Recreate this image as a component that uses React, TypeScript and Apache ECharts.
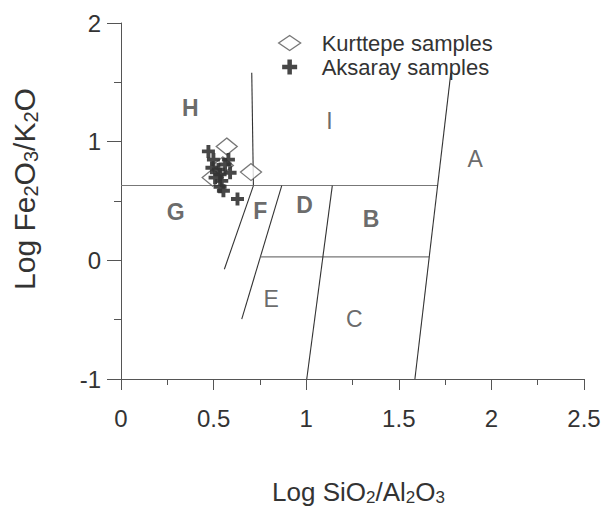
import React, { useEffect, useRef } from 'react';
import * as echarts from 'echarts';

const FONT = '"Liberation Sans", Arial, Helvetica, sans-serif';

// Sample data (x = Log SiO2/Al2O3, y = Log Fe2O3/K2O)
const kurttepeSamples: number[][] = [
  [0.571, 0.959],
  [0.702, 0.744],
  [0.495, 0.697],
  [0.55, 0.8],
];
const aksaraySamples: number[][] = [
  [0.472, 0.918],
  [0.499, 0.849],
  [0.58, 0.849],
  [0.589, 0.738],
  [0.526, 0.766],
  [0.508, 0.697],
  [0.544, 0.67],
  [0.553, 0.587],
  [0.629, 0.517],
  [0.535, 0.724],
  [0.491, 0.78],
  [0.562, 0.807],
  [0.535, 0.62],
];

// Classification field boundaries
const boundaryHI: number[][] = [[0.706, 1.58], [0.715, 0.63]];
const boundaryTop: number[][] = [[0, 0.63], [1.71, 0.63]];
const boundaryGF: number[][] = [[0.715, 0.63], [0.558, -0.075]];
const boundaryDF: number[][] = [[0.868, 0.63], [0.652, -0.495]];
const boundaryMid: number[][] = [[0.753, 0.029], [1.664, 0.029]];
const boundaryDB: number[][] = [[1.141, 0.63], [1.003, -1]];
const boundaryA: number[][] = [[1.781, 1.58], [1.587, -1]];

// Field labels
const regionNames = ['H', 'I', 'A', 'G', 'F', 'D', 'B', 'E', 'C'];
const regionX = [0.377, 1.128, 1.915, 0.298, 0.755, 0.994, 1.353, 0.814, 1.263];
const regionY = [1.276, 1.166, 0.849, 0.407, 0.413, 0.463, 0.344, -0.329, -0.495];
const regionBold = [true, false, false, true, true, true, true, false, false];

const PLUS = 'path://M7,0h6v7h7v6h-7v7h-6v-7h-7v-6h7z';
const LABEL_COLOR = '#444';

export default function App() {
  const ref = useRef<HTMLDivElement>(null);
  useEffect(() => {
    if (!ref.current) return;
    const chart = echarts.init(ref.current, null, { renderer: 'svg' });
    const lineSeries = (data: number[][], color: string) => ({
      type: 'line',
      data,
      symbol: 'none',
      silent: true,
      lineStyle: { color, width: 1.1 },
      z: 1,
    });
    chart.setOption({
      animation: false,
      backgroundColor: '#fff',
      grid: { left: 121, right: 28, top: 23, bottom: 125.5 },
      legend: {
        orient: 'vertical',
        left: 278,
        top: 32,
        padding: 0,
        itemWidth: 22,
        itemHeight: 15,
        itemGap: 2,
        textStyle: {
          fontFamily: FONT,
          fontSize: 22,
          lineHeight: 18,
          color: '#333',
          padding: [0, 0, 0, 16],
        },
        data: [
          {
            name: 'Kurttepe samples',
            icon: 'diamond',
            itemStyle: { color: '#fff', borderColor: '#555', borderWidth: 1.3 },
          },
          { name: 'Aksaray samples', icon: PLUS, itemStyle: { color: '#333' } },
        ],
      },
      xAxis: {
        type: 'value',
        min: 0,
        max: 2.5,
        interval: 0.5,
        splitLine: { show: false },
        axisLine: { onZero: false, lineStyle: { color: '#555', width: 1 } },
        axisTick: { length: 11, lineStyle: { color: '#555' } },
        minorTick: { show: true, splitNumber: 2, length: 6, lineStyle: { color: '#555' } },
        axisLabel: { fontFamily: FONT, fontSize: 24, color: '#333', margin: 27 },
        name: '{m|Log SiO}{s|2}{m|/Al}{s|2}{m|O}{s|3}',
        nameLocation: 'middle',
        nameGap: 99,
        nameTextStyle: {
          padding: [0, 0, 0, 12],
          rich: {
            m: { fontFamily: FONT, fontSize: 26, lineHeight: 28, color: '#333' },
            s: { fontFamily: FONT, fontSize: 17, lineHeight: 20, color: '#333', verticalAlign: 'bottom' },
          },
        },
      },
      yAxis: {
        type: 'value',
        min: -1,
        max: 2,
        interval: 1,
        splitLine: { show: false },
        axisLine: { show: true, onZero: false, lineStyle: { color: '#555', width: 1 } },
        axisTick: { show: true, length: 14, lineStyle: { color: '#555' } },
        minorTick: { show: true, splitNumber: 2, length: 7, lineStyle: { color: '#555' } },
        axisLabel: { fontFamily: FONT, fontSize: 24, color: '#333', margin: 20 },
        name: '{m|Log Fe}{s|2}{m|O}{s|3}{m|/K}{s|2}{m|O}',
        nameLocation: 'middle',
        nameGap: 80,
        nameTextStyle: {
          padding: [0, 0, 0, 24],
          rich: {
            m: { fontFamily: FONT, fontSize: 30, lineHeight: 33, color: '#333' },
            s: { fontFamily: FONT, fontSize: 20, lineHeight: 23, color: '#333', verticalAlign: 'bottom' },
          },
        },
      },
      series: [
        lineSeries(boundaryHI, '#333'),
        lineSeries(boundaryTop, '#777'),
        lineSeries(boundaryGF, '#333'),
        lineSeries(boundaryDF, '#333'),
        lineSeries(boundaryMid, '#777'),
        lineSeries(boundaryDB, '#333'),
        lineSeries(boundaryA, '#333'),
        {
          type: 'scatter',
          name: 'fields',
          silent: true,
          symbol: 'circle',
          symbolSize: 1,
          itemStyle: { color: 'rgba(0,0,0,0)' },
          data: regionNames.map((n, i) => ({
            name: n,
            value: [regionX[i], regionY[i]],
            label: {
              fontWeight: regionBold[i] ? 'bold' : 'normal',
              color: LABEL_COLOR,
            },
          })),
          label: {
            show: true,
            position: [0, 0],
            align: 'center',
            verticalAlign: 'middle',
            formatter: '{b}',
            fontFamily: FONT,
            fontSize: 23,
            color: LABEL_COLOR,
            textBorderWidth: 0,
          },
          z: 2,
        },
        {
          type: 'scatter',
          name: 'Kurttepe samples',
          symbol: 'diamond',
          symbolSize: [21, 17],
          data: kurttepeSamples,
          itemStyle: { color: '#fff', borderColor: '#555', borderWidth: 1.3 },
          z: 3,
        },
        {
          type: 'scatter',
          name: 'Aksaray samples',
          symbol: PLUS,
          symbolSize: 13,
          data: aksaraySamples,
          itemStyle: { color: '#333', opacity: 0.9 },
          z: 4,
        },
      ],
    });
    return () => chart.dispose();
  }, []);
  return (
    <div
      ref={ref}
      style={{ position: 'fixed', left: 0, top: 0, width: 612, height: 511, background: '#fff' }}
    />
  );
}
